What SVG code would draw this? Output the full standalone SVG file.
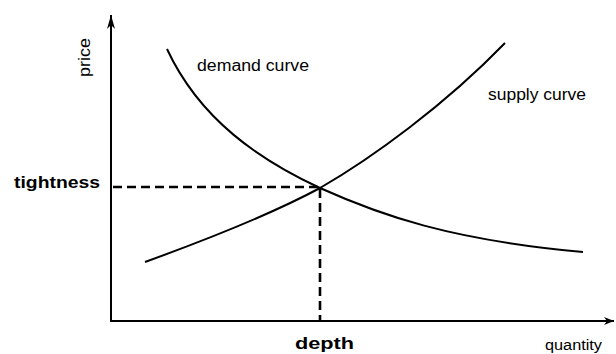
<svg xmlns="http://www.w3.org/2000/svg" width="616" height="354" viewBox="0 0 616 354">
<style>
.ax{stroke:#000;stroke-width:2;fill:none}
.cv{stroke:#000;stroke-width:2;fill:none}
.dash{stroke:#000;stroke-width:2.6;fill:none;stroke-dasharray:9 5}
.lbl{font-family:"Liberation Sans",Arial,sans-serif;font-size:16px;fill:#000}
.b{font-weight:bold}
</style>
<defs>
<marker id="arr" viewBox="0 0 10 10" refX="10" refY="5" markerWidth="10" markerHeight="10" markerUnits="userSpaceOnUse" orient="auto">
<path d="M0,1 L10,5 L0,9 L3,5 Z" fill="#000"/>
</marker>
<marker id="arrY" viewBox="0 0 14 8" refX="14" refY="4" markerWidth="14" markerHeight="8" markerUnits="userSpaceOnUse" orient="auto">
<path d="M0,0 L14,4 L0,8 L4,4 Z" fill="#000"/>
</marker>
</defs>
<g id="axes">
<line class="ax" x1="111" y1="321" x2="111" y2="15" marker-end="url(#arrY)"/>
<line class="ax" x1="110" y1="321" x2="614" y2="321" marker-end="url(#arr)"/>
</g>
<g id="connectors">
<path class="dash" d="M113,187 L320,187"/>
<path class="dash" d="M320,189 L320,320"/>
</g>
<g id="demand">
<path class="cv" d="M167,49 C200,120 260,160 320,188 C380,215 450,240 583,252"/>
<text class="lbl" x="197" y="71" textLength="112" lengthAdjust="spacingAndGlyphs">demand curve</text>
</g>
<g id="supply">
<path class="cv" d="M145,262 C200,242 270,215 320,188 C372,158 445,105 505,43"/>
<text class="lbl" x="488" y="100" textLength="98" lengthAdjust="spacingAndGlyphs">supply curve</text>
</g>
<g id="labels">
<text class="lbl" transform="translate(90,77) rotate(-90)" textLength="39" lengthAdjust="spacingAndGlyphs" style="font-size:17px">price</text>
<text class="lbl b" x="14" y="188" textLength="86" lengthAdjust="spacingAndGlyphs">tightness</text>
<text class="lbl b" x="295" y="349" textLength="59" lengthAdjust="spacingAndGlyphs">depth</text>
<text class="lbl" x="545" y="350" textLength="57" lengthAdjust="spacingAndGlyphs" style="font-size:14px">quantity</text>
</g>
</svg>
